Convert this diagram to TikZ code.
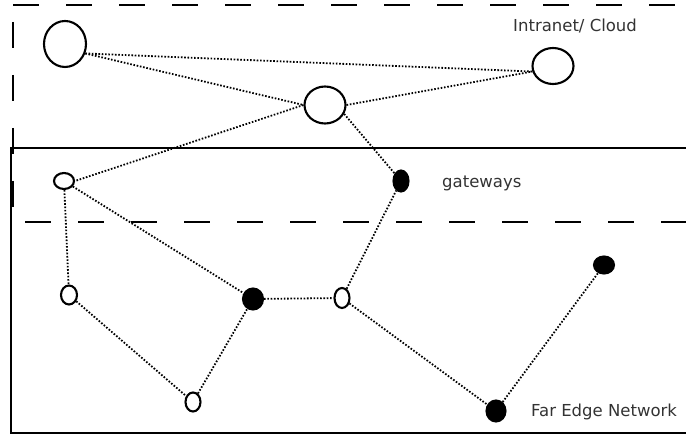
\documentclass[tikz,border=0pt]{standalone}
\usepackage{fontspec}
\setmainfont{DejaVu Sans}
\usetikzlibrary{shapes.geometric}
\begin{document}
\begin{tikzpicture}[x=1pt,y=-1pt,
  hostnode/.style={draw, ellipse, line width=2.1pt, inner sep=0pt, fill=white},
  solidnode/.style={hostnode, fill=black},
  link/.style={line width=1.8pt, dash pattern=on 1.6pt off 1.7pt},
  zoneline/.style={line width=2.4pt, dash pattern=on 26pt off 27pt},
  border/.style={line width=2.1pt},
  zonelabel/.style={text=black!80, font=\fontsize{16.5}{19}\selectfont, inner sep=0pt}]
\useasboundingbox (0,0) rectangle (686,435);

% zone boundaries
\draw[zoneline] (13,5) -- (686,5);
\draw[zoneline] (13,22) -- (13,210);
\draw[zoneline] (25,222) -- (686,222);
\draw[border] (686,148) -- (11,148) -- (11,433) -- (686,433);

% cloud hosts
\node[hostnode, minimum width=42pt, minimum height=46pt] (A) at (65,44) {};
\node[hostnode, minimum width=41pt, minimum height=37pt] (B) at (325,105) {};
\node[hostnode, minimum width=41pt, minimum height=36pt] (C) at (553,66) {};

% gateways
\node[hostnode, minimum width=20pt, minimum height=16pt] (D) at (64,181) {};
\node[solidnode, minimum width=15pt, minimum height=21pt] (E) at (401,181) {};

% far edge devices
\node[hostnode, minimum width=16pt, minimum height=19pt] (F) at (69,295) {};
\node[solidnode, minimum width=20pt, minimum height=21pt] (G) at (253,299) {};
\node[hostnode, minimum width=15pt, minimum height=20pt] (H) at (342,298) {};
\node[hostnode, minimum width=15pt, minimum height=19pt] (I) at (193,402) {};
\node[solidnode, minimum width=19pt, minimum height=21pt] (J) at (496,411) {};
\node[solidnode, minimum width=20pt, minimum height=17pt] (K) at (604,265) {};

% links
\draw[link] (A.-25) -- (C.195);
\draw[link] (A.-25) -- (B.west);
\draw[link] (B.east) -- (C.195);
\draw[link] (B.west) -- (D.east);
\draw[link] (B.-25) -- (E);
\draw[link] (D) -- (F);
\draw[link] (D) -- (G);
\draw[link] (F) -- (I);
\draw[link] (I) -- (G);
\draw[link] (G) -- (H);
\draw[link] (H) -- (E);
\draw[link] (H) -- (J);
\draw[link] (J) -- (K);

% zone labels
\node[zonelabel, anchor=base west] (cloudlabel) at (513,32) {Intranet/ Cloud};
\node[zonelabel, anchor=base west] (gwlabel) at (442,188) {gateways};
\node[zonelabel, anchor=base west] (edgelabel) at (531,417) {Far Edge Network};
\end{tikzpicture}
\end{document}
